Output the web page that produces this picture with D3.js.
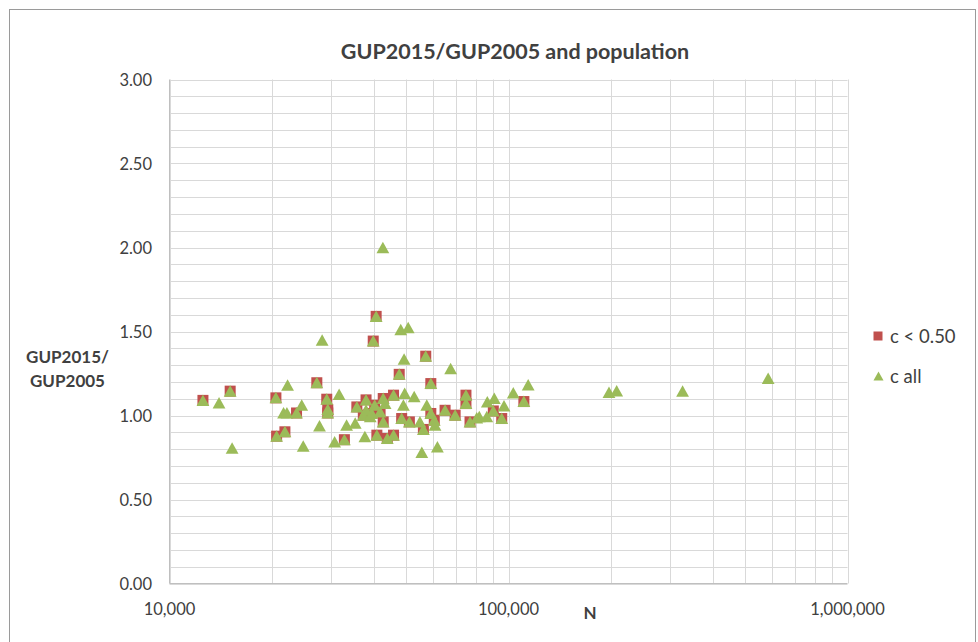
<!DOCTYPE html>
<html>
<head>
<meta charset="utf-8">
<script src="https://cdn.jsdelivr.net/npm/d3@7"></script>
<style>
  html, body { margin: 0; padding: 0; background: #fff; }
  svg { display: block; }
  text { font-family: Lato, "Open Sans", sans-serif; fill: #404040; }
</style>
</head>
<body>
<svg id="chart" width="978" height="642"></svg>
<script>
// ---- data ----
const title = "GUP2015/GUP2005 and population";
const xTitle = "N";
const yTitleLines = ["GUP2015/", "GUP2005"];
const seriesNames = ["c < 0.50", "c all"];

const xTickValues = [10000, 100000, 1000000];
const yTickValues = [0, 0.5, 1.0, 1.5, 2.0, 2.5, 3.0];

// series "c < 0.50"
const redN = [12550, 15100, 20600, 20700, 21900, 23700, 27200, 29100, 29300, 29300,
  32800, 35700, 38000, 40300, 42700, 45800, 40700, 39900, 47600, 57000,
  59000, 37300, 39500, 41800, 42700, 40900, 43900, 45800, 48400, 51000,
  56100, 59000, 60400, 65000, 69600, 74900, 74900, 77000, 90200, 95500, 111000];
const redV = [1.090, 1.145, 1.105, 0.877, 0.903, 1.015, 1.195, 1.097, 1.035, 1.015,
  0.856, 1.051, 1.093, 1.061, 1.101, 1.121, 1.590, 1.443, 1.245, 1.353,
  1.190, 1.002, 1.012, 1.021, 0.962, 0.883, 0.863, 0.883, 0.982, 0.962,
  0.917, 1.012, 0.972, 1.031, 1.002, 1.121, 1.071, 0.962, 1.027, 0.982, 1.083];

// additional points of series "c all" (it also contains every "c < 0.50" point)
const extraN = [14000, 15300, 28200, 22300, 31650, 24550, 21700, 22200, 27700, 24800,
  30700, 33300, 35300, 42600, 48100, 50600, 49200, 67500, 49400, 52700,
  48980, 54800, 57400, 60700, 55500, 61700, 37700, 38000, 43250, 39100,
  103300, 114300, 90800, 86600, 97000, 82000, 86300, 80600,
  197900, 208500, 326200, 583400];
const extraV = [1.075, 0.805, 1.448, 1.180, 1.125, 1.061, 1.015, 1.015, 0.938, 0.817,
  0.843, 0.942, 0.954, 1.999, 1.511, 1.523, 1.335, 1.279, 1.131, 1.111,
  1.061, 0.962, 1.061, 0.942, 0.780, 0.813, 0.873, 1.031, 1.071, 0.992,
  1.134, 1.182, 1.101, 1.081, 1.057, 0.992, 0.992, 0.985,
  1.137, 1.146, 1.144, 1.220];

const allN = redN.concat(extraN);
const allV = redV.concat(extraV);

// ---- drawing ----
const colors = { red: "#C0504D", green: "#9BBB59" };
const svg = d3.select("#chart");

const x = d3.scaleLog().domain([1e4, 1e6]).range([169.5, 847.5]);
const y = d3.scaleLinear().domain([0, 3]).range([583.5, 79.5]);

// chart area border
svg.append("rect").attr("x", 9.5).attr("y", 9.5).attr("width", 966).attr("height", 645)
  .attr("fill", "#fff").attr("stroke", "#9a9a9a").attr("stroke-width", 1);

// gridlines
const yGrid = d3.range(0, 31).map(i => i / 10);
svg.append("g").selectAll("line").data(yGrid).join("line")
  .attr("x1", x.range()[0]).attr("x2", x.range()[1])
  .attr("y1", d => Math.round(y(d)) + 0.5).attr("y2", d => Math.round(y(d)) + 0.5)
  .attr("stroke", "#d9d9d9").attr("stroke-width", 1);

const xGrid = [];
[1e4, 1e5].forEach(dec => { for (let k = 1; k <= 9; k++) xGrid.push(dec * k); });
xGrid.push(1e6);
svg.append("g").selectAll("line").data(xGrid).join("line")
  .attr("x1", d => Math.round(x(d)) + 0.5).attr("x2", d => Math.round(x(d)) + 0.5)
  .attr("y1", y.range()[1]).attr("y2", y.range()[0])
  .attr("stroke", "#d9d9d9").attr("stroke-width", 1);

// axis lines
svg.append("line").attr("x1", 169.5).attr("x2", 169.5).attr("y1", y(3)).attr("y2", y(0))
  .attr("stroke", "#bfbfbf");
svg.append("line").attr("x1", x(1e4)).attr("x2", x(1e6)).attr("y1", 583.5).attr("y2", 583.5)
  .attr("stroke", "#bfbfbf");

// tick labels
const fmtX = d3.format(",");
const fmtY = d3.format(".2f");
svg.append("g").selectAll("text").data(yTickValues).join("text")
  .attr("x", 152).attr("y", d => y(d) + 6)
  .attr("text-anchor", "end").attr("font-size", 16.5)
  .text(d => fmtY(d));
svg.append("g").selectAll("text").data(xTickValues).join("text")
  .attr("x", d => x(d)).attr("y", 615)
  .attr("text-anchor", "middle").attr("font-size", 16.5)
  .text(d => fmtX(d));

// titles
svg.append("text").attr("x", 515).attr("y", 59).attr("text-anchor", "middle")
  .attr("font-size", 21.5).attr("font-weight", "bold").text(title);
svg.append("text").attr("x", 590).attr("y", 619).attr("text-anchor", "middle")
  .attr("font-size", 17).attr("font-weight", "bold").text(xTitle);
svg.append("g").selectAll("text").data(yTitleLines).join("text")
  .attr("x", 67.5).attr("y", (d, i) => 363 + i * 24).attr("text-anchor", "middle")
  .attr("font-size", 17).attr("font-weight", "bold").text(d => d);

// markers
const sq = 11;
const triPath = "M0,-6L6.4,5.5L-6.4,5.5Z";
const redData = redN.map((n, i) => ({ n, v: redV[i] }));
const allData = allN.map((n, i) => ({ n, v: allV[i] }));

svg.append("g").selectAll("rect").data(redData).join("rect")
  .attr("x", d => x(d.n) - sq / 2).attr("y", d => y(d.v) - sq / 2)
  .attr("width", sq).attr("height", sq)
  .attr("fill", colors.red);

svg.append("g").selectAll("path").data(allData).join("path")
  .attr("transform", d => `translate(${x(d.n)},${y(d.v)})`)
  .attr("d", triPath).attr("fill", colors.green);

// legend
const lg = svg.append("g");
lg.append("rect").attr("x", 873.5).attr("y", 331.5).attr("width", 9).attr("height", 9)
  .attr("fill", colors.red);
lg.append("text").attr("x", 890).attr("y", 342.5).attr("font-size", 18.5).text(seriesNames[0]);
lg.append("path").attr("transform", "translate(878.5,376)").attr("d", "M0,-4.5L5,4.5L-5,4.5Z")
  .attr("fill", colors.green);
lg.append("text").attr("x", 890).attr("y", 382.5).attr("font-size", 18.5).text(seriesNames[1]);
</script>
</body>
</html>
